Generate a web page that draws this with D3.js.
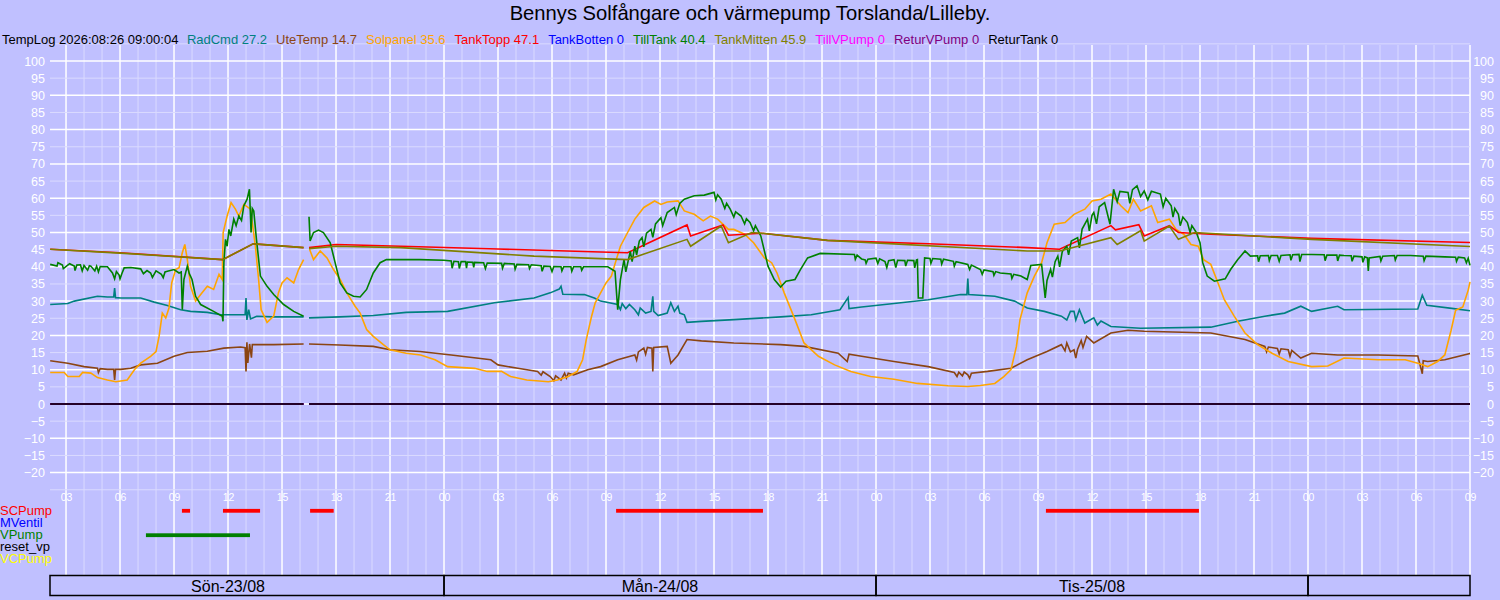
<!DOCTYPE html>
<html>
<head>
<meta charset="utf-8">
<script src="https://cdn.jsdelivr.net/npm/d3@7"></script>
<style>
body { margin:0; background:#c0c0ff; }
text { font-family: "Liberation Sans", Arial, sans-serif; }
</style>
</head>
<body>
<div id="chart"></div>
<script>
// all times are hours counted from Sön 23/08 00:00, null = gap in the log
let radCmd = [[2.12,29],[3.1,29.3],[3.46,30],[4.75,31.4],[5.3,31.2],[5.65,31.2],[5.7,33.8],[5.75,31],[6.05,30.9],[7.15,30.9],[7.9,29.7],[8.63,28.7],[9.37,27.5],[9.92,27],[10.85,26.7],[11.6,26],[12.7,26],[12.95,26],[13.0,30.9],[13.05,24.5],[13.15,27.5],[13.25,24.8],[13.6,25.6],[14.5,25.4],[16.2,25.4],
  [16.35,null],
  [16.5,25.1],[18.2,25.4],[20.07,25.8],[21.9,26.7],[24.2,27],[26.8,29.5],[29.0,30.9],[29.9,32.4],[30.4,33.5],[30.5,34.3],[30.6,32],[31.8,31.9],[32.35,30.9],[32.7,30],[33.65,29],[33.8,27.5],[33.9,29.3],[34.1,27.8],[34.3,29],[34.6,27.5],[34.8,26],[34.9,28],[35.2,26.5],[35.5,27],[35.6,31.4],[35.65,27],[35.9,25.8],[36.4,26.5],[36.6,29.5],[36.8,27],[37.0,28.5],[37.1,26.5],[37.35,26],[37.5,23.8],[38.3,24.1],[40.1,24.6],[42.7,25.4],[44.4,26],[46.0,27.5],[46.45,31],[46.5,27.8],[47.2,28.3],[49.0,29.3],[50.9,30.4],[52.7,31.9],[53.05,31.9],[53.1,36.6],[53.15,31.9],[54.6,31.4],[55.7,30],[56.4,28],[57.35,27],[58.3,25.6],[58.6,24.5],[58.8,27],[59.0,27],[59.1,24.5],[59.3,27.5],[59.6,23.6],[60.1,25.1],[60.3,23],[60.5,24.2],[61.05,22.6],[62.7,22.1],[66.6,22.4],[68.1,24.1],[69.6,25.6],[70.7,26.5],[71.6,28.5],[72.2,27],[73.65,28.5],[74.0,27.5],[78.1,27.7],[78.35,31.7],[78.6,28.8],[80.1,27.8],[81,27.2]];

let uteTemp = [[2.12,12.6],[3.1,11.9],[4.0,10.9],[4.75,10.4],[4.8,9.2],[4.9,10.3],[5.3,10.1],[5.65,10.1],[5.7,7],[5.75,10.1],[6.05,10.1],[6.6,10.4],[7.15,11.4],[8.08,11.9],[9.0,13.9],[9.74,15],[10.85,15.4],[11.77,16.3],[12.7,16.6],[12.95,16.4],[13.0,9.5],[13.05,18],[13.1,12],[13.2,17.5],[13.3,13.5],[13.35,17.3],[13.6,17.3],[14.54,17.3],[16.2,17.5],
  [16.35,null],
  [16.5,17.5],[18.2,17.2],[20.07,16.8],[21.0,15.8],[22.66,15.3],[24.4,14.3],[26.6,12.9],[27.0,11.4],[28.1,10.4],[29.2,9.5],[29.4,8.4],[29.5,9.4],[29.9,8],[30.1,6.8],[30.2,8.2],[30.5,7],[30.7,9],[30.8,7.6],[30.9,9],[31.2,8.5],[31.98,10],[32.7,10.9],[33.65,12.9],[34.6,14.3],[34.7,12.8],[34.8,15.2],[35.1,16.3],[35.2,14.5],[35.3,16.5],[35.55,16.3],[35.6,9.5],[35.65,16.5],[36.4,16.8],[36.6,11.9],[37.0,14.3],[37.5,18.8],[38.3,18.4],[40.1,17.8],[42.7,17.3],[44.0,16.8],[45.9,14.8],[46.4,12.4],[46.5,14.5],[47.2,13.9],[49.0,12.4],[50.9,10.9],[52.35,9.2],[52.5,8.0],[52.6,9.3],[52.8,8.2],[52.9,9.3],[53.1,8.5],[53.2,7.5],[53.3,9],[54.2,9.5],[55.5,10.4],[56.4,12.9],[57.5,15.3],[58.3,17.3],[58.5,15.5],[58.6,17.8],[58.8,15.2],[59.0,15.8],[59.1,13.4],[59.2,16],[59.4,18.5],[59.5,16.5],[59.7,19.7],[60.1,17.8],[61.05,20.7],[62.0,21.5],[62.9,21.2],[66.6,20.7],[68.5,18.8],[69.6,16.8],[69.7,15.2],[69.8,16.6],[70.3,16.2],[70.4,14.6],[70.5,16.1],[70.9,15.8],[71.0,13.9],[71.1,15.6],[71.6,13.4],[72.2,14.8],[73.65,14.3],[75.9,14.3],[78.1,14],[78.35,8.8],[78.4,12.6],[78.65,12.4],[79.6,12.9],[81,14.7]];

let solpanel = [[2.12,9.2],[2.9,9.2],[3.1,8],[3.74,8],[3.92,9.2],[4.38,9],[4.75,7.7],[5.3,7],[5.77,6.5],[6.4,7],[6.8,10],[7.15,11.9],[7.7,13.9],[8.0,15.3],[8.17,19.7],[8.35,26.5],[8.54,25.1],[8.72,28],[8.87,35.3],[9.09,39.2],[9.28,39.7],[9.46,44.1],[9.6,46.5],[9.74,42.1],[9.92,34.3],[10.2,30],[10.48,31.9],[10.85,34.3],[11.2,33.4],[11.5,37.8],[11.68,36.3],[11.73,50],[11.95,54.8],[12.17,58.7],[12.41,56.8],[12.6,54.8],[12.88,58.2],[13.25,56.8],[13.52,46],[13.7,36.3],[13.84,27.5],[14.17,23.8],[14.54,25.6],[14.8,32.4],[15.0,35.3],[15.28,36.8],[15.65,35.3],[15.92,39.2],[16.2,42.1],
  [16.35,null],
  [16.53,45.1],[16.75,42.1],[17.12,44.6],[17.5,42.6],[17.86,39.2],[18.23,36.3],[18.6,32.4],[19.06,28.5],[19.34,26.5],[19.7,21.7],[20.07,19.7],[20.63,17.3],[21.0,15.8],[21.9,14.8],[22.7,14.3],[23.5,12.9],[24.2,10.9],[25.7,10.4],[26.4,9.5],[27.2,9.5],[27.7,8],[28.6,7],[29.8,6.5],[30.3,7],[30.9,8],[31.4,9.5],[31.7,12.9],[31.9,18.7],[32.2,25.6],[32.4,29.5],[32.7,32.4],[33.0,35.3],[33.3,37.3],[33.6,42.6],[33.8,46],[34.2,50],[34.6,53.9],[35.1,57.3],[35.7,59.2],[36.05,58.2],[36.4,58.9],[37.0,59.2],[37.35,56.3],[37.9,55.3],[38.4,53.4],[38.8,54.8],[39.2,53.9],[39.8,50.9],[40.1,50.9],[40.7,49.5],[41.2,47],[41.8,42.6],[42.2,41.2],[42.5,38.2],[42.9,32.4],[43.5,24.6],[44.0,17.8],[44.8,13.9],[45.7,11.4],[46.6,9.5],[47.7,8],[49.0,7.2],[50.3,6],[52.0,5.3],[53.1,5.1],[53.8,5.4],[54.6,6],[55.1,8],[55.5,10],[55.8,16.8],[56.0,24.6],[56.4,32.4],[56.8,37.3],[57.2,41.2],[57.5,47],[57.9,52.4],[58.5,52.9],[59.0,55.3],[59.6,56.8],[60.0,59.2],[60.5,59.7],[61.05,61.2],[61.6,57.8],[62.0,55.8],[62.3,59.7],[62.7,56.3],[63.3,57.8],[63.65,52.9],[64.3,53.9],[64.67,50.9],[65.1,49.5],[65.5,46.5],[65.9,46],[66.2,42.1],[66.6,40.7],[67.0,35.3],[67.35,30.4],[67.9,25.6],[68.5,20.7],[69.2,17.3],[70.0,14.8],[70.9,12.4],[72.2,10.9],[73.1,11.1],[74.0,13.4],[75.9,12.9],[77.4,12.9],[78.1,11.9],[78.65,10.9],[79.2,12.4],[79.6,14.3],[79.95,21.5],[80.2,27.3],[80.6,28.3],[80.9,33.2],[81,35.6]];

let tankTopp = [[2.12,45.1],[6,44.1],[11.7,42.1],[13.4,46.7],[16.2,45.6],[16.35,null],[16.5,45.6],[18,46.5],[21.6,46.0],[27,45.2],[32.7,44.3],[34.2,44.1],[37.5,52.2],[37.7,49],[39.5,52.2],[39.8,49.2],[41.6,49.8],[45.3,47.7],[50.9,46.7],[56.4,45.6],[58.2,45.1],[61.05,52.0],[61.3,50.8],[62.6,52.3],[62.9,49.0],[64.3,52.0],[64.8,50.0],[66.6,49.5],[72.2,48.3],[81,47.1]];

let tankMitten = [[2.12,45.1],[6,44],[11.7,42.1],[13.4,46.7],[16.2,45.6],[16.35,null],[16.5,45.3],[18,46],[21.6,45.6],[29,43.1],[34.2,42.1],[37.5,48],[37.7,46],[39.4,51.9],[39.8,47],[41.1,50],[41.6,49.8],[45.3,47.7],[56.4,44.6],[58.2,44.6],[61.05,48.5],[61.4,46.5],[62.7,50.5],[62.9,47.5],[64.3,51.9],[64.8,48],[65.7,50],[72.2,48],[81,45.9]];

let tillTank = [[2.12,40.7],[2.5,40.2],[2.55,41.2],[2.8,40.5],[2.85,39.5],[3.2,40.9],[3.46,40.2],[3.5,38.9],[3.6,40.5],[3.8,40.6],[3.9,38.8],[4.0,40.4],[4.2,39.0],[4.3,40.3],[4.38,40.2],[4.6,38.8],[4.7,40.2],[4.8,38.5],[4.9,40.1],[5.3,40],[5.58,38.2],[5.7,36.5],[5.8,38.6],[5.95,37.6],[6.0,36.5],[6.1,38],[6.23,39.7],[6.6,39.8],[7.15,39.4],[7.3,38.0],[7.5,38.9],[7.7,38.2],[7.8,36.9],[8.0,38.8],[8.3,37.8],[8.4,36.8],[8.5,38.5],[8.63,38.7],[9.0,39.2],[9.28,38.2],[9.4,38.5],[9.46,27.5],[9.55,36.3],[9.74,40.2],[9.85,38],[10.0,36.3],[10.2,31.4],[10.48,29],[11.2,27],[11.68,25.6],[11.72,24.1],[11.77,41.2],[11.86,48],[11.95,46],[12.05,50.9],[12.15,49],[12.32,53.9],[12.45,52],[12.6,54.8],[12.75,53.5],[12.88,57.8],[13.06,59.7],[13.19,62.6],[13.24,56],[13.28,50],[13.35,57],[13.43,56.3],[13.58,48],[13.8,37.3],[14.17,34.3],[14.54,31.9],[15.09,29],[15.65,27],[16.2,25.6],
  [16.35,null],
  [16.5,54.6],[16.56,47.5],[16.75,50],[17.03,50.7],[17.3,50],[17.68,47],[17.95,41.2],[18.23,35.3],[18.6,32.4],[18.97,31.4],[19.34,31.2],[19.7,33.4],[20.07,38.2],[20.45,41.2],[20.8,42.1],[22.66,42.1],[24.0,41.9],[24.4,41.7],[24.45,39.6],[24.55,41.6],[24.8,41.5],[24.85,39.5],[24.95,41.5],[25.2,41.5],[25.25,39.6],[25.3,41.4],[25.6,41.3],[25.65,39.8],[25.7,41.3],[26.2,41.2],[26.3,39.5],[26.4,41.1],[27.2,41.0],[27.25,39.6],[27.35,41],[27.9,40.8],[27.95,39.3],[28.05,40.7],[28.7,40.6],[28.75,39.5],[28.85,40.6],[29.4,40.3],[29.45,38.7],[29.55,40.2],[29.9,40.1],[30.0,38.6],[30.1,40.1],[30.5,40.0],[30.55,38.8],[30.65,40],[31.05,40],[31.1,38.7],[31.2,40],[31.6,40],[31.65,39.0],[31.75,40],[33.1,40],[33.5,38.7],[33.65,27.5],[33.8,36.3],[34.0,42.1],[34.1,38.5],[34.2,41],[34.35,44.5],[34.45,41.5],[34.6,46],[34.7,43.5],[34.85,47.5],[35.0,48.5],[35.1,45.8],[35.25,49.8],[35.5,50.9],[35.6,48.6],[35.75,52.5],[36.05,54.3],[36.15,52],[36.4,55.8],[36.8,57.3],[36.9,55.2],[37.1,58.5],[37.35,59.7],[37.9,60.7],[38.46,60.9],[39.0,61.7],[39.1,59.5],[39.2,61],[39.4,59.7],[39.6,57],[39.7,58.5],[39.9,56.8],[40.1,54.5],[40.2,56],[40.5,54.8],[40.7,52.5],[40.8,54],[41.0,52.9],[41.2,50.5],[41.3,52],[41.6,49],[42.0,40.2],[42.35,36.3],[42.7,34.1],[43.0,35.8],[43.5,36.3],[43.8,39.2],[44.2,42.6],[44.9,43.9],[46.8,43.6],[46.85,42.2],[46.95,43.4],[47.2,42.3],[47.4,42.0],[47.45,41],[47.55,42.2],[48.0,42.5],[48.1,41.0],[48.2,42.3],[48.5,41.5],[48.6,39.8],[48.7,41.8],[49.0,42.1],[49.1,39.8],[49.2,41.9],[49.6,41.8],[49.65,40.2],[49.75,41.9],[50.1,41.8],[50.15,39.7],[50.25,42],[50.3,42.1],[50.35,30.9],[50.6,30.9],[50.7,42.6],[51.0,42.4],[51.05,41.0],[51.15,42.4],[51.6,42.2],[51.65,40.8],[51.75,42.2],[52.3,41.6],[52.35,40.2],[52.45,41.5],[53.1,40.7],[53.2,39.2],[53.3,40.5],[53.8,39.2],[53.9,37.8],[54.0,39.1],[54.5,38.6],[54.55,37.5],[54.65,38.6],[54.9,38.2],[55.5,37.9],[55.55,36.6],[55.65,37.8],[56.05,37.3],[56.4,36.3],[56.6,40.4],[57.2,40.7],[57.4,30.9],[57.5,36],[57.7,39.2],[57.8,37],[57.95,41.5],[58.1,43.1],[58.2,40],[58.35,44.5],[58.6,46],[58.7,43.5],[58.85,47.5],[59.2,48.5],[59.3,45.5],[59.45,51],[59.75,53.9],[59.85,50.5],[60.0,55],[60.1,55.8],[60.25,52.5],[60.4,57.5],[60.7,58.7],[61.0,52.4],[61.2,62.6],[61.4,59],[61.55,62],[62.0,61.7],[62.1,58.5],[62.25,62.5],[62.5,63.6],[62.7,60.5],[62.9,62.1],[63.1,59.5],[63.3,62],[63.8,61.2],[63.95,57.5],[64.1,60],[64.4,57.8],[64.5,54.5],[64.6,57],[64.8,55.3],[64.9,52],[65.05,54.5],[65.3,52.9],[65.45,50],[65.55,52],[65.8,50],[66.0,47],[66.15,41.2],[66.4,37.3],[66.8,35.8],[67.4,36.5],[67.7,39.2],[68.1,42.1],[68.5,44.6],[68.8,43.1],[69.2,43.2],[69.25,41.5],[69.35,43.2],[69.8,43.3],[69.85,41.8],[69.95,43.3],[70.3,43.3],[70.4,41.6],[70.5,43.3],[71.0,43.5],[71.05,41.9],[71.15,43.5],[71.5,43.6],[71.55,41.5],[71.65,43.6],[72.2,43.6],[72.9,43.5],[72.95,41.8],[73.05,43.4],[73.6,43.4],[73.65,41.7],[73.75,43.4],[74.0,43.3],[74.4,43.2],[74.45,41.6],[74.55,43.1],[75.0,42.9],[75.05,41.3],[75.15,42.9],[75.3,42.6],[75.35,38.8],[75.4,42.6],[76.0,43.0],[76.05,41.7],[76.15,43.1],[76.8,43.3],[76.85,42.0],[76.95,43.3],[77.7,43.3],[78.4,43.1],[78.45,41.8],[78.55,43.1],[79.6,42.9],[80.2,42.8],[80.25,41.6],[80.35,42.8],[80.7,42.6],[80.8,41.2],[80.9,42.5],[81,40.4]];

// TankBotten, TillVPump, ReturVPump and ReturTank all read 0
let zeroSeries = [[2.12,0],[16.2,0],[16.35,null],[16.5,0],[81,0]];

let seriesNames = ["RadCmd","UteTemp","Solpanel","TankTopp","TankBotten","TillTank","TankMitten","TillVPump","ReturVPump","ReturTank"];
let seriesLast = ["27.2","14.7","35.6","47.1","0","40.4","45.9","0","0","0"];
let seriesData = [radCmd, uteTemp, solpanel, tankTopp, zeroSeries, tillTank, tankMitten, zeroSeries, zeroSeries, zeroSeries];

// pump on-periods [start, end] in hours
let pumpNames = ["SCPump","MVentil","VPump","reset_vp","VCPump"];
let scPump = [[9.44,9.89],[11.72,13.78],[16.56,17.87],[33.56,41.72],[57.44,65.94]];
let mVentil = [];
let vPump = [[7.44,13.22]];
let resetVp = [];
let vcPump = [];
let pumpData = [scPump, mVentil, vPump, resetVp, vcPump];

let dayLabels = ["Sön-23/08","Mån-24/08","Tis-25/08"];
let logStamp = "TempLog 2026:08:26 09:00:04";
let title = "Bennys Solfångare och värmepump Torslanda/Lilleby.";
let startHour = 2.11;
let endHour = 81;

// colours
let seriesColors = ["#008080","#8b4513","#ffa500","#ff0000","#0000ff","#008000","#808000","#ff00ff","#800080","#000000"];
let pumpColors = ["#ff0000","#0000ff","#008000","#000000","#ffff00"];

let svgWidth = 1500;
let svgHeight = 600;
let plotLeft = 50;
let plotRight = 1470;
let gridTop = 45;
let gridBottom = 575;

let baseTime = new Date(2026, 7, 23, 0, 0, 0);
function hourToDate(h) {
    return new Date(baseTime.getTime() + h * 3600 * 1000);
}

let svg = d3.select("#chart")
    .append("svg")
    .attr("width", svgWidth)
    .attr("height", svgHeight);

svg.append("rect")
    .attr("width", svgWidth)
    .attr("height", svgHeight)
    .attr("fill", "#c0c0ff");

let x = d3.scaleTime()
    .domain([hourToDate(startHour), hourToDate(endHour)])
    .range([plotLeft, plotRight]);

let y = d3.scaleLinear()
    .domain([-25, 105])
    .range([489.75, 43.85]);

// grid: hourly verticals, white every third hour
let gridGroup = svg.append("g");
let hours = d3.timeHour.range(hourToDate(startHour), hourToDate(endHour + 0.01));
gridGroup.selectAll("line.vgrid")
    .data(hours)
    .enter()
    .append("line")
    .attr("x1", d => x(d))
    .attr("x2", d => x(d))
    .attr("y1", gridTop)
    .attr("y2", gridBottom)
    .attr("stroke", d => d.getHours() % 3 === 0 ? "#ffffff" : "#dadaff")
    .attr("stroke-width", d => d.getHours() % 3 === 0 ? 1.5 : 1);

// grid: horizontals every 5 degrees, white every 10
gridGroup.selectAll("line.hgrid")
    .data(d3.range(-25, 106, 5))
    .enter()
    .append("line")
    .attr("x1", plotLeft)
    .attr("x2", plotRight)
    .attr("y1", d => y(d))
    .attr("y2", d => y(d))
    .attr("stroke", d => d % 10 === 0 ? "#ffffff" : "#dadaff")
    .attr("stroke-width", d => d % 10 === 0 ? 1.5 : 1);

// y axes on both sides
let yTicks = d3.range(-20, 101, 5);
let leftAxis = svg.append("g")
    .attr("transform", `translate(${plotLeft},0)`)
    .call(d3.axisLeft(y).tickValues(yTicks).tickSize(0).tickPadding(5));
let rightAxis = svg.append("g")
    .attr("transform", `translate(${plotRight},0)`)
    .call(d3.axisRight(y).tickValues(yTicks).tickSize(0));
rightAxis.selectAll("text").attr("x", 24).attr("text-anchor", "end");

[leftAxis, rightAxis].forEach(function(ax) {
    ax.select(".domain").remove();
    ax.selectAll("text")
        .attr("fill", "#ffffff")
        .attr("font-size", "12.5px")
        .attr("font-family", "Liberation Sans, Arial, sans-serif");
});

// time axis
let timeAxis = svg.append("g")
    .attr("transform", "translate(0,490)")
    .call(d3.axisBottom(x).ticks(d3.timeHour.every(3)).tickFormat(d3.timeFormat("%H")).tickSize(0).tickPadding(3.5));
timeAxis.select(".domain").remove();
timeAxis.selectAll("text")
    .attr("fill", "#ffffff")
    .attr("font-size", "10.5px")
    .attr("font-family", "Liberation Sans, Arial, sans-serif");

// temperature lines
let line = d3.line()
    .defined(d => d[1] !== null)
    .x(d => x(hourToDate(d[0])))
    .y(d => y(d[1]));

let lineGroup = svg.append("g");
seriesData.forEach(function(data, i) {
    lineGroup.append("path")
        .datum(data)
        .attr("d", line)
        .attr("fill", "none")
        .attr("stroke", seriesColors[i])
        .attr("stroke-width", 1.6)
        .attr("stroke-linejoin", "miter");
});

// title and legend line
svg.append("text")
    .attr("x", 750)
    .attr("y", 19.5)
    .attr("text-anchor", "middle")
    .attr("font-size", "20.2px")
    .attr("fill", "#000000")
    .text(title);

let legendGroup = svg.append("g");
let legendX = 2;
let stamp = legendGroup.append("text")
    .attr("x", legendX)
    .attr("y", 44)
    .attr("font-size", "13px")
    .attr("fill", "#000000")
    .text(logStamp);
legendX += stamp.node().getComputedTextLength() + 8.5;

seriesNames.forEach(function(name, i) {
    let t = legendGroup.append("text")
        .attr("x", legendX)
        .attr("y", 44)
        .attr("font-size", "13px")
        .attr("fill", seriesColors[i])
        .text(name + " " + seriesLast[i]);
    legendX += t.node().getComputedTextLength() + 9;
});

// pump status rows
let pumpGroup = svg.append("g");
pumpNames.forEach(function(name, i) {
    let base = 514.5 + i * 12.2;
    pumpGroup.append("text")
        .attr("x", 0)
        .attr("y", base)
        .attr("font-size", "13px")
        .attr("fill", pumpColors[i])
        .text(name);

    pumpGroup.selectAll("rect.p" + i)
        .data(pumpData[i])
        .enter()
        .append("rect")
        .attr("x", d => x(hourToDate(d[0])))
        .attr("width", d => x(hourToDate(d[1])) - x(hourToDate(d[0])))
        .attr("y", base - 5.6)
        .attr("height", 3.8)
        .attr("fill", pumpColors[i]);
});

// day boxes along the bottom
let dayStarts = d3.timeDay.range(hourToDate(startHour), hourToDate(endHour));
let edges = [x.domain()[0]].concat(dayStarts, [x.domain()[1]]);
let boxGroup = svg.append("g");
for (let i = 0; i < edges.length - 1; i++) {
    boxGroup.append("rect")
        .attr("x", x(edges[i]))
        .attr("y", 575.5)
        .attr("width", x(edges[i + 1]) - x(edges[i]))
        .attr("height", 20)
        .attr("fill", "none")
        .attr("stroke", "#000000")
        .attr("stroke-width", 1.5);
}
boxGroup.selectAll("text")
    .data(dayLabels)
    .enter()
    .append("text")
    .attr("x", (d, i) => x(hourToDate(i * 24 + 12)))
    .attr("y", 591.5)
    .attr("text-anchor", "middle")
    .attr("font-size", "16px")
    .attr("fill", "#000000")
    .text(d => d);
</script>
</body>
</html>
